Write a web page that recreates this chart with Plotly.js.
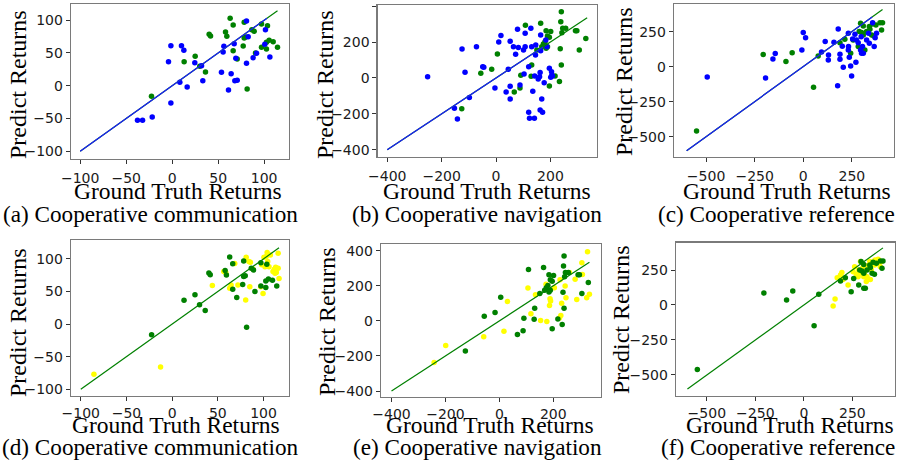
<!DOCTYPE html>
<html>
<head>
<meta charset="utf-8">
<script src="https://cdn.plot.ly/plotly-3.0.1.min.js"></script>
<style>html,body{margin:0;padding:0;background:#fff}#chart{width:902px;height:460px}</style>
</head>
<body>
<div id="chart"></div>
<script>
// ---------- data ----------
// Cooperative communication
const greenCommX = [-22.5, 13, 25, 30, 36.2, 40.2, 41.7, 58, 59.4, 63, 66.3, 66.3, 70.7, 77.2, 78.3, 78.3, 80, 81.5, 86.6, 89.1, 90.6, 97.1, 97.1, 103.6, 102.5, 102.5, 105.4, 109.8, 114.5];
const greenCommY = [-16.3, 36.6, 44.8, 29.5, 20.9, 78.4, 75.8, 82, 75.3, 102.8, 92.6, 53.4, 40.7, 60.6, 96.7, 72.8, 74.3, -5.1, 85.5, 83, 49.9, 94.1, 58.5, 91.6, 66.2, 56, 69.2, 67.2, 58.5];
const blueCommX = [-37.7, -32.2, -21.7, -1.4, -4, -1.4, 10.1, 12.7, 8.3, 16.3, 24.6, 31.9, 33.3, 53.6, 55.4, 56.2, 64.1, 67.4, 61.2, 68.1, 70.7, 69.2, 80.8, 80.8, 82.6, 88, 91.7, 100.7, 101.4, 106.2];
const blueCommY = [-52.9, -52.9, -47.8, -26.5, 36.6, 61, 61, 54, 5.1, -2, 35.1, 30.5, 7.6, 20.4, 51.4, 60, 18.3, 64.1, -6.6, 7.6, 8.1, 41.7, 98.7, 34.1, 74.8, 42.7, 49.4, 63.1, 85.5, 43.8];
const yellowCommX = [-85.6, -12.7, 44, 56.5, 58.7, 63, 64.5, 68.5, 72, 80.5, 81, 84, 85.6, 85, 97, 98, 99.5, 100.5, 103, 104.6, 106, 104, 107.5, 110.4, 111.8, 113.3, 114, 116, 116, 117, 112.6, 101.6, 88.5];
const yellowCommY = [-77, -66, 59, 80.5, 79, 55, 60, 93, 60, 37, 102.6, 96, 95, 57.4, 57.4, 91, 47, 102.6, 103.6, 96, 88, 109.7, 106, 80.5, 84, 87, 79, 85.6, 108.7, 70, 78, 88, 84.6];

// Cooperative navigation
const greenNavX = [-126, -56, -16, 5, 67, 88, 91, 131, 129, 108, 164, 168, 174, 184, 189, 180, 184, 189, 196, 201, 196, 217, 233, 236, 240, 238, 242, 240, 245, 256, 292, 297, 306, 330, 150];
const greenNavY = [-171, 26, 48, 134, -78, -56, 15, 72, 9, 293, 304, 174, 189, 165, 174, 202, 263, 234, 226, 258, -45, 11, -20, 163, 369, 313, 252, 72, 276, 276, 263, 263, 156, 219, 156];
const blueNavX = [-251.5, -153, -142, -125, -114, -98, -72, -49, -45, -4, 10, 18, 37, 45, 52, 52, 52, 64, 72, 79, 82, 101, 103, 107, 107, 120, 120, 123, 128, 131, 135, 141, 142, 145, 146, 155, 160, 162, 162, 164, 168, 171, 177, 183, 187, 196, 201, 204, 205, 207, 164, 88];
const blueNavY = [7, -169, -228, 161, 31.5, -108, 174, 63, 59, -56, 200, 236, -78, 48, 204, -117, -46, 174, 132, 271, 169, 156, 22, 249, 174, 63, -191, -224, 276, 174, -74, -224, 11, 128, 184, -6, 7, 30, -178, 239, -117, -191, -26, 211, 174, 54, 4, 35, 15, 11, 152, -39];
const yellowNavX = [-242, -199, -58, 17, 30, 106, 117, 134, 153, 173, 176, 186, 190, 204, 223, 228, 231, 244, 247, 225, 260, 281, 287, 306, 308, 324, 327, 334, 188];
const yellowNavY = [-237, -140, -90, -59, 111, 188, 40, 149, 2, 209, -4, 88, 113, 189, 17, 31, 101, 199, 132, 235, 276, 237, 122, 331, 264, 132, 394, 151, 126];

// Cooperative reference
const greenRefX = [-549, -206, -89, -57, 53, 77, 189, 214, 257, 244, 283, 309, 317, 295, 309, 288, 300, 309, 326, 343, 357, 374, 395, 408, 352, 364, 403, 340];
const greenRefY = [-460, 86, 36, 100, -148, 76, 171, 195, 190, 95, 143, 119, 119, 310, 290, 250, 243, 226, 250, 267, 305, 298, 314, 314, 226, 219, 262, 286];
const blueRefX = [-494, -194, -156, -144, -7, 0, 12, 94, 113, 130, 129, 158, 180, 189, 189, 177, 201, 206, 232, 233, 232, 237, 244, 249, 254, 266, 271, 274, 283, 295, 300, 305, 326, 336, 340, 357, 370, 377, 298, 309, 365];
const blueRefY = [-74, -81, 55, 93, 119, 243, 207, 105, 179, 83, 48, 174, 269, 52, 88, -136, 145, -5, 238, 143, 119, 67, 5, -67, 198, 231, 31, 190, 171, 119, 95, 143, 190, 238, 167, 314, 207, 238, 214, 95, 143];
const yellowRefX = [151, 161, 172, 189, 196, 202, 228, 254, 271, 280, 283, 292, 305, 309, 314, 322, 331, 340, 348, 357, 367, 383, 388, 394, 400, 262, 298, 326, 365, 343];
const yellowRefY = [-7, 43, 195, 214, 233, 183, 143, 238, 219, 202, 250, 310, 269, 202, 238, 167, 283, 310, 250, 298, 321, 326, 298, 274, 310, 274, 226, 202, 286, 183];

// identity-line extents (y = x) per panel a..f
const diagStart = [-100, -400, -600, -100, -400, -600];
const diagEndGreen = [114.5, 335, 408, 117, 334, 408];
const diagEndOther = [103, 173, 355, null, null, null];

// text
const captions = ['(a) Cooperative communication', '(b) Cooperative navigation', '(c) Cooperative reference',
                  '(d) Cooperative communication', '(e) Cooperative navigation', '(f) Cooperative reference'];
const xTitle = 'Ground Truth Returns';
const yTitle = 'Predict Returns';
const tickComm = [-100, -50, 0, 50, 100];
const tickNav = [-400, -200, 0, 200, 400];
const tickRefX = [-500, -250, 0, 250];
const tickRefY = [-500, -250, 0, 250];

// ---------- layout geometry (pixels) ----------
const W = 902, H = 460;
const frames = [ // [left, right, top, bottom]
  [71, 289, 4, 159],
  [377.7, 596.7, 5, 156.7],
  [674, 894, 4.3, 156.7],
  [71, 289, 240, 395.7],
  [381, 601, 244, 396.7],
  [676, 895, 242.7, 395.7]
];
const xRanges = [[-110, 127], [-435, 370], [-665, 467], [-110.7, 127.9], [-439, 377], [-659, 470]];
const yRanges = [[-112, 124.7], [-438, 406], [-643, 445], [-110, 129], [-432, 438], [-648, 445]];
const xTicks = [tickComm, tickNav.slice(0, 4), tickRefX, tickComm, tickNav.slice(0, 4), tickRefX];
const yTicks = [tickComm, tickNav, tickRefY, tickComm, tickNav, tickRefY];

const BLUE = '#0000ff', GREEN = '#008000', YELLOW = '#ffff00';
const panels = [
  {g: [greenCommX, greenCommY], o: [blueCommX, blueCommY], oc: BLUE},
  {g: [greenNavX, greenNavY], o: [blueNavX, blueNavY], oc: BLUE},
  {g: [greenRefX, greenRefY], o: [blueRefX, blueRefY], oc: BLUE},
  {g: [greenCommX, greenCommY], o: [yellowCommX, yellowCommY], oc: YELLOW},
  {g: [greenNavX, greenNavY], o: [yellowNavX, yellowNavY], oc: YELLOW},
  {g: [greenRefX, greenRefY], o: [yellowRefX, yellowRefY], oc: YELLOW}
];

const traces = [];
const layout = {
  width: W, height: H, margin: {l: 0, r: 0, t: 0, b: 0},
  paper_bgcolor: '#fff', plot_bgcolor: '#fff', showlegend: false,
  font: {family: 'DejaVu Sans', size: 14, color: '#1a1a1a'},
  annotations: []
};
const MS = 5.5;
panels.forEach((p, i) => {
  const n = i + 1;
  const xa = n === 1 ? 'x' : 'x' + n;
  const ya = n === 1 ? 'y' : 'y' + n;
  const top = i < 3;
  const lineG = {x: [diagStart[i], diagEndGreen[i]], y: [diagStart[i], diagEndGreen[i]], mode: 'lines',
    line: {color: GREEN, width: 1.2}, xaxis: xa, yaxis: ya, hoverinfo: 'skip'};
  const mG = {x: p.g[0], y: p.g[1], mode: 'markers', marker: {color: GREEN, size: MS}, xaxis: xa, yaxis: ya};
  const mO = {x: p.o[0], y: p.o[1], mode: 'markers', marker: {color: p.oc, size: MS}, xaxis: xa, yaxis: ya};
  if (top) {
    const lineB = {x: [diagStart[i], diagEndOther[i]], y: [diagStart[i], diagEndOther[i]], mode: 'lines',
      line: {color: '#1a1aff', width: 1.2}, xaxis: xa, yaxis: ya, hoverinfo: 'skip'};
    traces.push(mG, mO, lineG, lineB);
  } else {
    traces.push(mO, mG, lineG);
  }
  const f = frames[i];
  const axCommon = {showline: true, mirror: true, linecolor: '#7a7a7a', linewidth: 1.3,
    ticks: 'outside', ticklen: 4, tickwidth: 1, tickcolor: '#333', showgrid: false, zeroline: false,
    tickfont: {family: 'DejaVu Sans', size: 14, color: '#1a1a1a'}, fixedrange: true};
  layout['xaxis' + (n === 1 ? '' : n)] = Object.assign({}, axCommon, {
    domain: [f[0] / W, f[1] / W], range: xRanges[i], tickmode: 'array', tickvals: xTicks[i],
    ticklabelstandoff: top ? 2 : 0, anchor: ya});
  layout['yaxis' + (n === 1 ? '' : n)] = Object.assign({}, axCommon, {
    domain: [1 - f[3] / H, 1 - f[2] / H], range: yRanges[i], tickmode: 'array', tickvals: yTicks[i],
    anchor: xa});
});

// titles as annotations (pixel positions)
const serif = 'Liberation Serif, Times New Roman, serif';
const xTitlePos = [[178, 191], [487, 191], [787, 191], [176, 425], [490, 425], [790, 425]];
const capPos = [[150, 214], [477, 214], [776, 214], [150, 447], [477, 447], [778, 447]];
const yTitlePos = [[18, 85], [325, 85], [624, 82], [18, 323], [327, 322], [621, 320]];
for (let i = 0; i < 6; i++) {
  layout.annotations.push({text: xTitle, xref: 'paper', yref: 'paper', x: xTitlePos[i][0] / W, y: 1 - xTitlePos[i][1] / H,
    xanchor: 'center', yanchor: 'middle', showarrow: false, font: {family: serif, size: 23.5, color: '#000'}});
  layout.annotations.push({text: captions[i], xref: 'paper', yref: 'paper', x: capPos[i][0] / W, y: 1 - capPos[i][1] / H,
    xanchor: 'center', yanchor: 'middle', showarrow: false, font: {family: serif, size: 23.2, color: '#000'}});
  layout.annotations.push({text: yTitle, xref: 'paper', yref: 'paper', x: yTitlePos[i][0] / W, y: 1 - yTitlePos[i][1] / H,
    xanchor: 'center', yanchor: 'middle', textangle: -90, showarrow: false, font: {family: serif, size: 24, color: '#000'}});
}

Plotly.newPlot('chart', traces, layout, {staticPlot: true, displayModeBar: false});
</script>
</body>
</html>
